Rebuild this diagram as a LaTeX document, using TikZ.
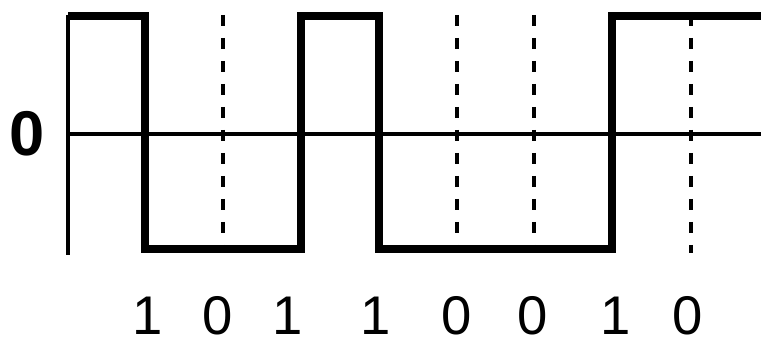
\documentclass[tikz,border=0pt]{standalone}
\usepackage{fontspec}
\setmainfont{Liberation Sans}
\usetikzlibrary{positioning}

\begin{document}
\begin{tikzpicture}[x=0.02cm, y=-0.02cm,
    wave/.style={line width=4pt, line join=miter},
    axisline/.style={line width=1.9pt},
    bitmark/.style={line width=1.9pt, dash pattern=on 0.22cm off 0.24cm},
    bitlabel/.style={font=\fontsize{31}{31}\selectfont, inner sep=0pt},
    zerolabel/.style={font=\fontsize{36}{36}\selectfont\bfseries, inner sep=0pt},
  ]
  \useasboundingbox (0,0) rectangle (761,344);

  % Achsen
  \coordinate (top) at (68,15);
  \coordinate (bot) at (68,255);
  \coordinate (zl) at (68,134);
  \coordinate (zr) at (761,134);
  \draw[axisline] (top) -- (bot);
  \draw[axisline] (zl) -- (zr);
  \node[zerolabel] (zero) at (27,134) {0};

  % Bitgrenzen
  \foreach \x in {223, 457, 534, 691} {
    \draw[bitmark] (\x,15) -- (\x,253);
  }

  % Signal
  \draw[wave] (68,16) -- (145,16) -- (145,249) -- (301,249) -- (301,16)
    -- (379,16) -- (379,249) -- (612,249) -- (612,16) -- (761,16);

  % Bits
  \foreach \i/\x/\b in {1/148/1, 2/218/0, 3/288/1, 4/376/1,
                        5/457/0, 6/533/0, 7/616/1, 8/688/0} {
    \node[bitlabel] (b\i) at (\x,316) {\b};
  }
\end{tikzpicture}
\end{document}
